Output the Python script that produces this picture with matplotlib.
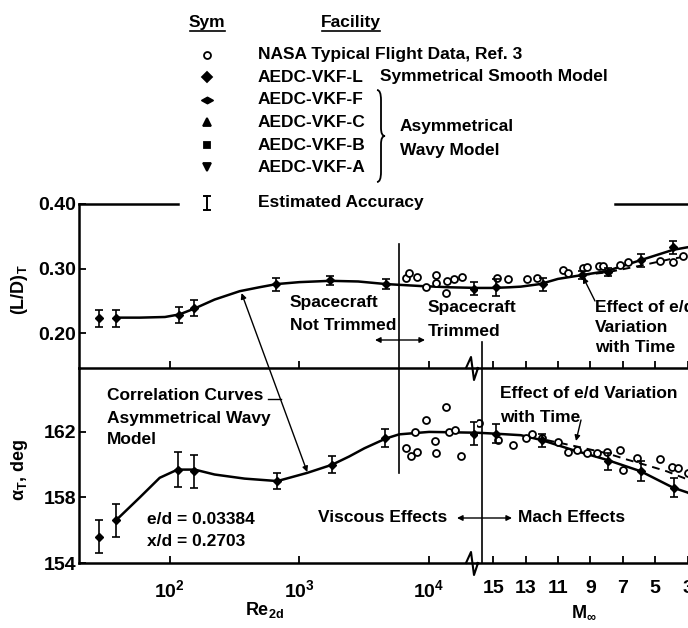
import matplotlib
matplotlib.use("Agg")
import matplotlib.pyplot as plt
from matplotlib import font_manager
from matplotlib.lines import Line2D
from matplotlib.patches import ConnectionPatch, FancyArrowPatch, PathPatch
from matplotlib.path import Path

# ---------------------------------------------------------------- data
# L/D correlation curve, viscous (Reynolds-number) regime
ld_curve_re = [39, 59, 92, 119, 155, 222, 347, 490, 668, 1000, 1730, 2840, 4650, 8500, 14500, 23400]
ld_curve_re_vals = [0.224, 0.224, 0.225, 0.229, 0.238, 0.252, 0.265, 0.271, 0.276, 0.279,
                    0.281, 0.280, 0.276, 0.273, 0.271, 0.270]
# L/D correlation curve, Mach regime
ld_curve_mach = [16.0, 15.0, 14.0, 13.3, 12.1, 11.0, 9.5, 8.0, 5.9, 3.9, 3.0, 2.5]
ld_curve_mach_vals = [0.270, 0.270, 0.271, 0.272, 0.276, 0.284, 0.290, 0.296, 0.313, 0.329, 0.333, 0.335]
# L/D with e/d varying in time
ld_dash_mach = [9.5, 8.0, 6.0, 4.0, 2.5]
ld_dash_mach_vals = [0.290, 0.294, 0.304, 0.315, 0.321]

# trim angle correlation curve
at_curve_re = [38.5, 58.8, 83.8, 115, 156, 222, 378, 677, 1150, 1790, 2420, 3170, 4650, 5870, 10000, 23400]
at_curve_re_vals = [156.6, 158.0, 159.2, 159.7, 159.7, 159.4, 159.15, 159.0, 159.5, 160.0,
                    160.5, 161.0, 161.6, 161.85, 162.0, 161.95]
at_curve_mach = [16.0, 15.0, 13.3, 12.0, 10.1, 8.0, 5.9, 3.9, 3.0, 2.5]
at_curve_mach_vals = [161.95, 161.9, 161.8, 161.5, 160.9, 160.3, 159.6, 158.6, 158.3, 158.0]
at_dash_mach = [11.7, 9.8, 8.0, 6.7, 5.3, 4.3, 3.0, 2.5]
at_dash_mach_vals = [161.5, 161.1, 160.7, 160.3, 159.9, 159.6, 159.1, 158.9]

# wind-tunnel points (AEDC-VKF) with estimated accuracy
ld_pts_re = [28.5, 38.5, 117, 155, 665, 1730, 4650, 22000]
ld_pts_re_vals = [0.223, 0.223, 0.228, 0.239, 0.276, 0.282, 0.276, 0.269]
ld_pts_re_err = [0.013, 0.013, 0.012, 0.012, 0.010, 0.007, 0.008, 0.010]
ld_pts_mach = [14.8, 11.9, 9.5, 7.9, 5.9, 3.9]
ld_pts_mach_vals = [0.271, 0.276, 0.290, 0.295, 0.313, 0.333]
ld_pts_mach_err = [0.013, 0.010, 0.006, 0.006, 0.010, 0.010]

at_pts_re = [28.5, 38.5, 115, 153, 668, 1780, 4600, 22000]
at_pts_re_vals = [155.6, 156.6, 159.7, 159.6, 159.0, 160.0, 161.6, 161.9]
at_pts_re_err = [1.0, 1.0, 1.05, 1.0, 0.5, 0.5, 0.55, 0.7]
at_pts_mach = [14.8, 12.0, 7.9, 5.9, 3.85]
at_pts_mach_vals = [161.9, 161.5, 160.2, 159.6, 158.6]
at_pts_mach_err = [0.6, 0.4, 0.5, 0.6, 0.6]

# NASA typical flight data
fl_ld_re = [6650, 7020, 8090, 9490, 11300, 11300, 13500, 13800, 15600, 17900]
fl_ld_re_vals = [0.285, 0.293, 0.287, 0.271, 0.290, 0.278, 0.262, 0.281, 0.284, 0.287]
fl_ld_mach = [14.75, 14.07, 12.9, 12.3, 10.7, 10.4, 9.44, 9.2, 8.5, 8.2, 7.16, 6.7, 4.7, 3.9, 3.27]
fl_ld_mach_vals = [0.285, 0.284, 0.284, 0.285, 0.298, 0.293, 0.301, 0.302, 0.304, 0.304,
                   0.305, 0.310, 0.312, 0.310, 0.319]
fl_at_re = [9400, 13500, 7800, 6640, 7250, 8100, 11200, 11300, 14200, 15800, 17700]
fl_at_re_vals = [162.7, 163.5, 162.0, 161.0, 160.5, 160.8, 161.45, 160.7, 162.0, 162.1, 160.5]
fl_at_mach = [15.9, 14.7, 13.8, 13.0, 12.6, 12.0, 11.0, 10.4, 9.8, 9.2, 8.6, 7.96, 7.16, 6.98,
              6.1, 4.7, 3.95, 3.6, 3.0]
fl_at_mach_vals = [162.55, 161.5, 161.2, 161.6, 161.9, 161.6, 161.4, 160.8, 160.9, 160.7, 160.7,
                   160.8, 160.9, 159.7, 160.4, 160.35, 159.85, 159.8, 159.5]

# regime boundaries
RE_TRIM = 5870          # spacecraft trimmed / not trimmed
MACH_SPLIT = 15.7       # viscous effects / Mach effects

re_ticks = [100, 1000, 10000]
re_ticklabels = [r"$10^{2}$", r"$10^{3}$", r"$10^{4}$"]
mach_ticks = [15, 13, 11, 9, 7, 5, 3]
ld_ticks = [0.20, 0.30, 0.40]
at_ticks = [154, 158, 162]

legend_syms = ["NASA Typical Flight Data, Ref. 3", "AEDC-VKF-L", "AEDC-VKF-F",
               "AEDC-VKF-C", "AEDC-VKF-B", "AEDC-VKF-A"]

# ---------------------------------------------------------------- style
names = {f.name for f in font_manager.fontManager.ttflist}
FONT = "Liberation Sans" if "Liberation Sans" in names else "DejaVu Sans"
plt.rcParams["font.family"] = [FONT, "DejaVu Sans"]
plt.rcParams["font.weight"] = "bold"
plt.rcParams["mathtext.fontset"] = "custom"
plt.rcParams["mathtext.rm"] = f"{FONT}:bold"
plt.rcParams["mathtext.it"] = f"{FONT}:bold"
plt.rcParams["mathtext.bf"] = f"{FONT}:bold"
plt.rcParams["mathtext.default"] = "rm"

W, H = 688, 628
fig = plt.figure(figsize=(W / 100, H / 100), dpi=100)
fig.patch.set_facecolor("white")


def fx(px):
    return px / W


def fy(py):
    return 1 - py / H


X0, XB, XR = 79, 477, 720
Y_TOP, Y_MID, Y_BOT = 204, 368, 563
ax_ul = fig.add_axes([fx(X0), fy(Y_MID), (XB - X0) / W, (Y_MID - Y_TOP) / H])
ax_ur = fig.add_axes([fx(XB), fy(Y_MID), (XR - XB) / W, (Y_MID - Y_TOP) / H])
ax_ll = fig.add_axes([fx(X0), fy(Y_BOT), (XB - X0) / W, (Y_BOT - Y_MID) / H])
ax_lr = fig.add_axes([fx(XB), fy(Y_BOT), (XR - XB) / W, (Y_BOT - Y_MID) / H])

RE_LIM = (20, 23400)
MACH_LIM = (16.0, 1.0)
LD_LIM = (0.146, 0.40)
AT_LIM = (154, 165.9)

SPW = 1.8
for ax in (ax_ul, ax_ur, ax_ll, ax_lr):
    ax.patch.set_visible(False)
    ax.spines["right"].set_visible(False)
    for s in ax.spines.values():
        s.set_linewidth(SPW)
    ax.tick_params(direction="in", length=5, width=1.3, labelsize=14, pad=2)
    ax.minorticks_off()

for ax in (ax_ul, ax_ll):
    ax.set_xscale("log")
    ax.set_xlim(*RE_LIM)
    ax.set_xticks(re_ticks)
    ax.minorticks_off()
for ax in (ax_ur, ax_lr):
    ax.set_xlim(*MACH_LIM)
    ax.set_xticks(mach_ticks)
    ax.spines["left"].set_visible(False)
    ax.set_yticks([])
for ax in (ax_ul, ax_ur):
    ax.set_ylim(*LD_LIM)
    ax.tick_params(axis="x", labelbottom=False)
for ax in (ax_ll, ax_lr):
    ax.set_ylim(*AT_LIM)
    ax.spines["top"].set_visible(False)
    ax.tick_params(axis="x", pad=12)

ax_ul.spines["top"].set_bounds(20, 116)
ax_ur.spines["top"].set_bounds(7.48, 1.0)
ax_ul.set_yticks(ld_ticks)
ax_ul.set_yticklabels([f"{v:.2f}" for v in ld_ticks])
ax_ll.set_yticks(at_ticks)
ax_ll.set_yticklabels([str(v) for v in at_ticks])
ax_ll.set_xticklabels(re_ticklabels)
ax_lr.set_xticklabels([str(v) for v in mach_ticks])

LW = 1.8
curve_kw = dict(color="black", lw=LW, solid_capstyle="round")
dash_kw = dict(color="black", lw=1.4, ls=(0, (4, 3)))
err_kw = dict(fmt="D", color="black", ms=4.5, capsize=3, elinewidth=1.2, capthick=1.2)
open_kw = dict(ls="none", marker="o", ms=5, mfc="white", mec="black", mew=1.3)

# upper panel: lift-to-drag ratio
ax_ul.plot(ld_curve_re, ld_curve_re_vals, **curve_kw)
ax_ur.plot(ld_curve_mach, ld_curve_mach_vals, **curve_kw)
ax_ur.plot(ld_dash_mach, ld_dash_mach_vals, **dash_kw)
ax_ul.plot(fl_ld_re, fl_ld_re_vals, **open_kw)
ax_ur.plot(fl_ld_mach, fl_ld_mach_vals, **open_kw)
ax_ul.errorbar(ld_pts_re, ld_pts_re_vals, yerr=ld_pts_re_err, **err_kw)
ax_ur.errorbar(ld_pts_mach, ld_pts_mach_vals, yerr=ld_pts_mach_err, **err_kw)

# lower panel: trim angle
ax_ll.plot(at_curve_re, at_curve_re_vals, **curve_kw)
ax_lr.plot(at_curve_mach, at_curve_mach_vals, **curve_kw)
ax_lr.plot(at_dash_mach, at_dash_mach_vals, **dash_kw)
ax_ll.plot(fl_at_re, fl_at_re_vals, **open_kw)
ax_lr.plot(fl_at_mach, fl_at_mach_vals, **open_kw)
ax_ll.errorbar(at_pts_re, at_pts_re_vals, yerr=at_pts_re_err, **err_kw)
ax_lr.errorbar(at_pts_mach, at_pts_mach_vals, yerr=at_pts_mach_err, **err_kw)

# regime boundaries
ax_ul.axvline(RE_TRIM, ymin=0, ymax=0.756, color="black", lw=1.2)
ax_ll.axvline(RE_TRIM, ymin=0.46, ymax=1, color="black", lw=1.2)
ax_ur.axvline(MACH_SPLIT, ymin=0, ymax=0.159, color="black", lw=1.2)
ax_lr.axvline(MACH_SPLIT, ymin=0, ymax=1, color="black", lw=1.2)


def fig_line(xs, ys, **kw):
    fig.add_artist(Line2D([fx(x) for x in xs], [fy(y) for y in ys],
                          transform=fig.transFigure, color="black", **kw))


# axis break marks
for yb in (Y_MID, Y_BOT):
    fig_line([466, 471, 474, 478], [yb, yb - 11, yb + 12, yb], lw=1.5)

# axis labels
fig.text(fx(20), fy(290), r"(L/D)$_{T}$", rotation=90, ha="center", va="center", fontsize=13)
fig.text(fx(20), fy(470), r"α$_{T}$, deg", rotation=90, ha="center", va="center", fontsize=13)
fig.text(fx(265), fy(610), r"Re$_{2d}$", ha="center", va="center", fontsize=13)
fig.text(fx(584), fy(612), r"M$_{\infty}$", ha="center", va="center", fontsize=13)

# ---------------------------------------------------------------- legend
TX, SX = 258, 207
fig.text(fx(SX), fy(22), "Sym", ha="center", va="center", fontsize=12.5)
fig.text(fx(351), fy(22), "Facility", ha="center", va="center", fontsize=12.5)
fig_line([190, 225], [31, 31], lw=1.2)
fig_line([322, 380], [31, 31], lw=1.2)

rows_y = [55, 77, 100, 122, 145, 167]
flat_diamond = Path([(-1, 0), (0, 0.55), (1, 0), (0, -0.55), (-1, 0)],
                    [Path.MOVETO, Path.LINETO, Path.LINETO, Path.LINETO, Path.CLOSEPOLY])
markers = [("o", 5, "white"), ("D", 5, "black"), (flat_diamond, 8, "black"),
           ("^", 6, "black"), ("s", 5, "black"), ("v", 6, "black")]
for y, label, (m, ms, fc) in zip(rows_y, legend_syms, markers):
    fig.add_artist(Line2D([fx(SX)], [fy(y)], transform=fig.transFigure, ls="none",
                          marker=m, ms=ms, mfc=fc, mec="black", mew=1.3))
    fig.text(fx(TX), fy(y), label, ha="left", va="center", fontsize=12.5)
fig.text(fx(380), fy(rows_y[1]), "Symmetrical Smooth Model", ha="left", va="center", fontsize=12.5)
fig.text(fx(400), fy(127), "Asymmetrical", ha="left", va="center", fontsize=12.5)
fig.text(fx(400), fy(150), "Wavy Model", ha="left", va="center", fontsize=12.5)

# curly brace grouping the asymmetrical wavy model facilities
bx, bt, bb, bw = 377, 90, 182, 8
bm = (bt + bb) / 2
verts = [(bx, bt), (bx + bw / 2, bt), (bx + bw / 2, bt + 10),
         (bx + bw / 2, bm - 8), (bx + bw / 2, bm), (bx + bw, bm),
         (bx + bw / 2, bm), (bx + bw / 2, bm + 8),
         (bx + bw / 2, bb - 10), (bx + bw / 2, bb), (bx, bb)]
codes = [Path.MOVETO, Path.CURVE3, Path.CURVE3, Path.LINETO, Path.CURVE3, Path.CURVE3,
         Path.CURVE3, Path.CURVE3, Path.LINETO, Path.CURVE3, Path.CURVE3]
fig.add_artist(PathPatch(Path([(fx(x), fy(y)) for x, y in verts], codes),
                         transform=fig.transFigure, fill=False, lw=1.3, ec="black"))

# estimated accuracy symbol
fig_line([SX, SX], [196, 210], lw=1.4)
fig_line([SX - 3, SX + 3], [196, 196], lw=1.4)
fig_line([SX - 3, SX + 3], [210, 210], lw=1.4)
fig.text(fx(TX), fy(203), "Estimated Accuracy", ha="left", va="center", fontsize=12.5)

# ---------------------------------------------------------------- annotations
AF = 12.5


def ftext(px, py, s, **kw):
    fig.text(fx(px), fy(py), s, ha="left", va="center", fontsize=AF, **kw)


ftext(290, 302, "Spacecraft")
ftext(290, 325, "Not Trimmed")
ftext(428, 307, "Spacecraft")
ftext(428, 331, "Trimmed")
ftext(595, 307, "Effect of e/d")
ftext(595, 327, "Variation")
ftext(595, 348, "with Time")
ftext(107, 395, "Correlation Curves")
ftext(107, 418, "Asymmetrical Wavy")
ftext(107, 440, "Model")
ftext(147, 520, "e/d = 0.03384")
ftext(147, 542, "x/d = 0.2703")
fig.text(fx(447), fy(518), "Viscous Effects", ha="right", va="center", fontsize=AF)
ftext(518, 518, "Mach Effects")
ftext(500, 393, "Effect of e/d Variation")
ftext(500, 417, "with Time")


def fig_arrow(p0, p1, style):
    fig.add_artist(FancyArrowPatch((fx(p0[0]), fy(p0[1])), (fx(p1[0]), fy(p1[1])),
                                   transform=fig.transFigure, arrowstyle=style,
                                   mutation_scale=8, lw=1.0, color="black",
                                   shrinkA=0, shrinkB=0))


fig_arrow((375, 340), (425, 340), "<|-|>")
fig_arrow((457, 518), (512, 518), "<|-|>")
fig_arrow((595, 301), (583, 277), "-|>")
fig_arrow((581, 420), (576, 441), "-|>")

# link between the two correlation curves
con = ConnectionPatch(xyA=(358, 0.262), coordsA=ax_ul.transData,
                      xyB=(1150, 159.55), coordsB=ax_ll.transData,
                      arrowstyle="<|-|>", mutation_scale=8, lw=1.0, color="black",
                      shrinkA=0, shrinkB=0)
fig.add_artist(con)
fig_line([268, 281], [399, 399], lw=1.0)

fig.savefig("out.png", dpi=100)
